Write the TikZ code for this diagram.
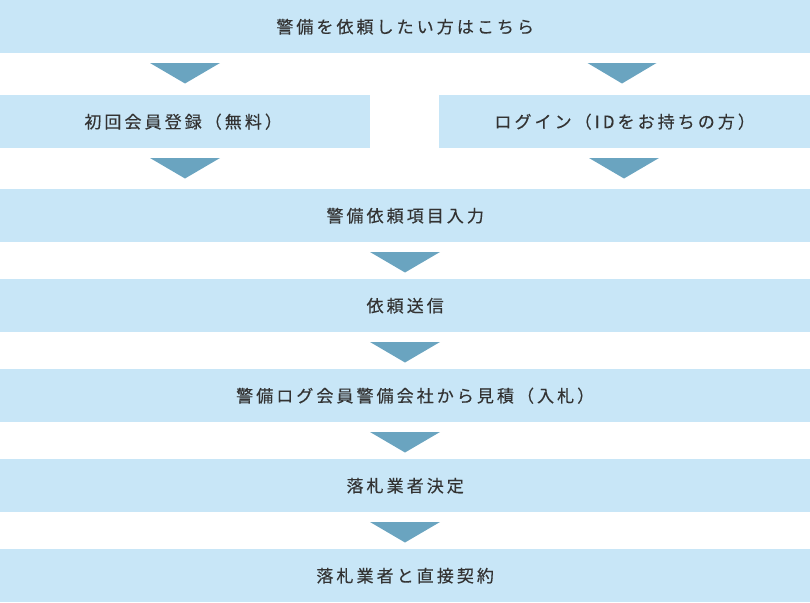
\documentclass[tikz,border=0pt]{standalone}
\usepackage{fontspec}
\setmainfont{Noto Sans CJK JP}[LetterSpace=18,FakeBold=0.3]
\definecolor{barc}{HTML}{C8E6F7}
\definecolor{arrc}{HTML}{6AA4C0}
\definecolor{txtc}{HTML}{333333}
\begin{document}
\begin{tikzpicture}[x=1pt,y=-1pt,
  bar/.style={fill=barc,draw=none,inner sep=0pt,anchor=north west,text=txtc,font=\fontsize{17pt}{20pt}\selectfont,align=center},
  tri/.style={fill=arrc,draw=none}]
\useasboundingbox (0,0) rectangle (810,602);
\node[bar,minimum width=810pt,minimum height=53pt] (b1) at (0,0) {警備を依頼したい方はこちら};
\node[bar,minimum width=370pt,minimum height=53pt] (b2l) at (0,95) {初回会員登録（無料）\hspace*{4pt}};
\node[bar,minimum width=371pt,minimum height=53pt] (b2r) at (439,95) {ログイン（IDをお持ちの方）};
\node[bar,minimum width=810pt,minimum height=53pt] (b3) at (0,189) {警備依頼項目入力};
\node[bar,minimum width=810pt,minimum height=53pt] (b4) at (0,279) {依頼送信};
\node[bar,minimum width=810pt,minimum height=53pt] (b5) at (0,369) {\hspace*{20pt}警備ログ会員警備会社から見積（入札）};
\node[bar,minimum width=810pt,minimum height=53pt] (b6) at (0,459) {落札業者決定};
\node[bar,minimum width=810pt,minimum height=53pt] (b7) at (0,549) {落札業者と直接契約};
% arrows
\fill[tri] (150,63) -- (220,63) -- (185,83.5) -- cycle;
\fill[tri] (587.5,63) -- (656.5,63) -- (622,83.5) -- cycle;
\fill[tri] (150,158) -- (220,158) -- (185,178.5) -- cycle;
\fill[tri] (589,158) -- (659,158) -- (624,178.5) -- cycle;
\foreach \y in {252,342,432,522} {
  \fill[tri] (370,\y) -- (440,\y) -- (405,\y+20.5) -- cycle;
}
\end{tikzpicture}
\end{document}
